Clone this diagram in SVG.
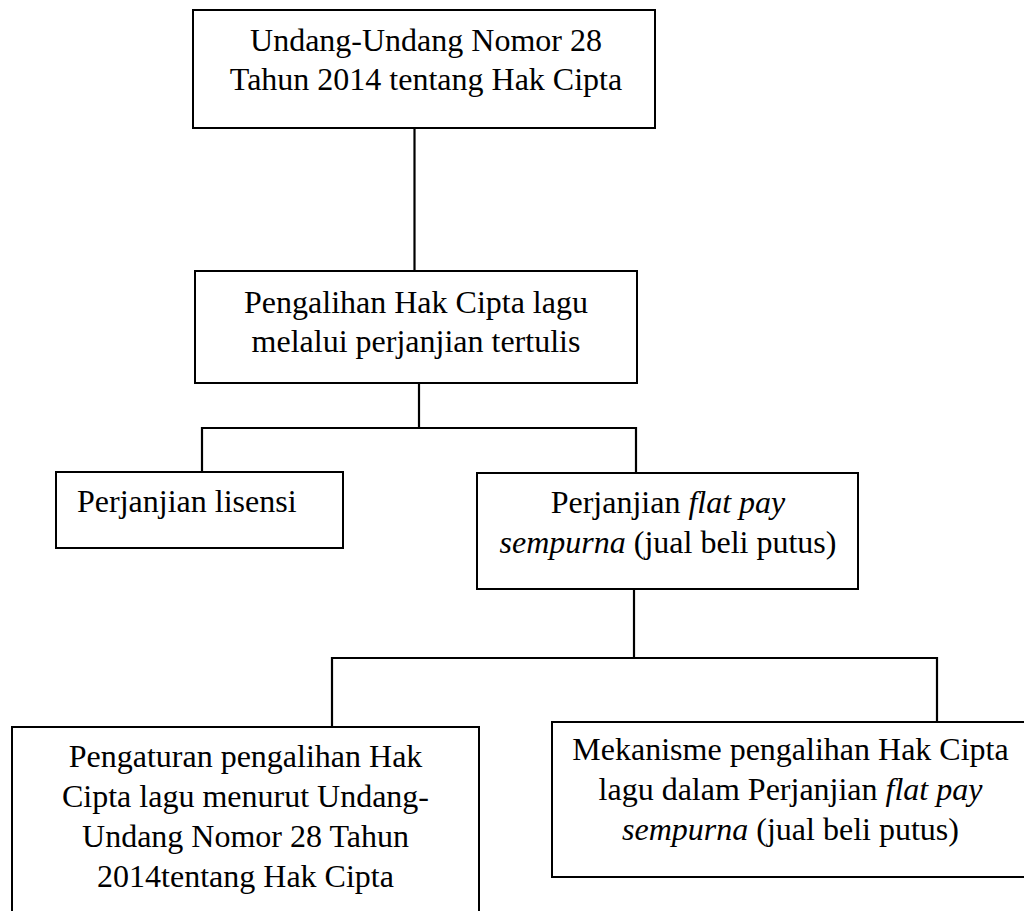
<svg xmlns="http://www.w3.org/2000/svg" width="1024" height="911" viewBox="0 0 1024 911">
<style>
.box{fill:#fff;stroke:#000;stroke-width:2}
.t{font-family:"Liberation Serif","Times New Roman",serif;font-size:32px;fill:#000}
.c{text-anchor:middle}
.i{font-style:italic}
.ln{stroke:#000;stroke-width:2.2;fill:none}
</style>
<rect width="1024" height="911" fill="#fff"/>
<g id="connectors">
<line class="ln" x1="414.5" y1="128" x2="414.5" y2="271"/>
<line class="ln" x1="419" y1="384" x2="419" y2="428"/>
<polyline class="ln" points="202,472 202,428 636,428 636,473"/>
<line class="ln" x1="634" y1="589" x2="634" y2="658"/>
<polyline class="ln" points="332,727 332,658 937,658 937,722"/>
</g>
<g id="node-uu">
<rect class="box" x="193" y="10" width="462" height="118"/>
<text class="t c" x="426" y="51">Undang-Undang Nomor 28</text>
<text class="t c" x="426" y="90">Tahun 2014 tentang Hak Cipta</text>
</g>
<g id="node-pengalihan">
<rect class="box" x="195" y="271" width="442" height="112"/>
<text class="t c" x="416" y="313">Pengalihan Hak Cipta lagu</text>
<text class="t c" x="416" y="352">melalui perjanjian tertulis</text>
</g>
<g id="node-lisensi">
<rect class="box" x="56" y="472" width="287" height="76"/>
<text class="t" x="77" y="512">Perjanjian lisensi</text>
</g>
<g id="node-flatpay">
<rect class="box" x="477" y="473" width="381" height="116"/>
<text class="t c" x="668" y="513">Perjanjian <tspan class="i">flat pay</tspan></text>
<text class="t c" x="668" y="553"><tspan class="i">sempurna</tspan> (jual beli putus)</text>
</g>
<g id="node-pengaturan">
<rect class="box" x="12" y="727" width="467" height="200"/>
<text class="t c" x="245.5" y="767">Pengaturan pengalihan Hak</text>
<text class="t c" x="245.5" y="807">Cipta lagu menurut Undang-</text>
<text class="t c" x="245.5" y="847">Undang Nomor 28 Tahun</text>
<text class="t c" x="245.5" y="887">2014tentang Hak Cipta</text>
</g>
<g id="node-mekanisme">
<rect class="box" x="552" y="722" width="477" height="155"/>
<text class="t c" x="790.5" y="760">Mekanisme pengalihan Hak Cipta</text>
<text class="t c" x="790.5" y="800">lagu dalam Perjanjian <tspan class="i">flat pay</tspan></text>
<text class="t c" x="790.5" y="840"><tspan class="i">sempurna</tspan> (jual beli putus)</text>
</g>
</svg>
